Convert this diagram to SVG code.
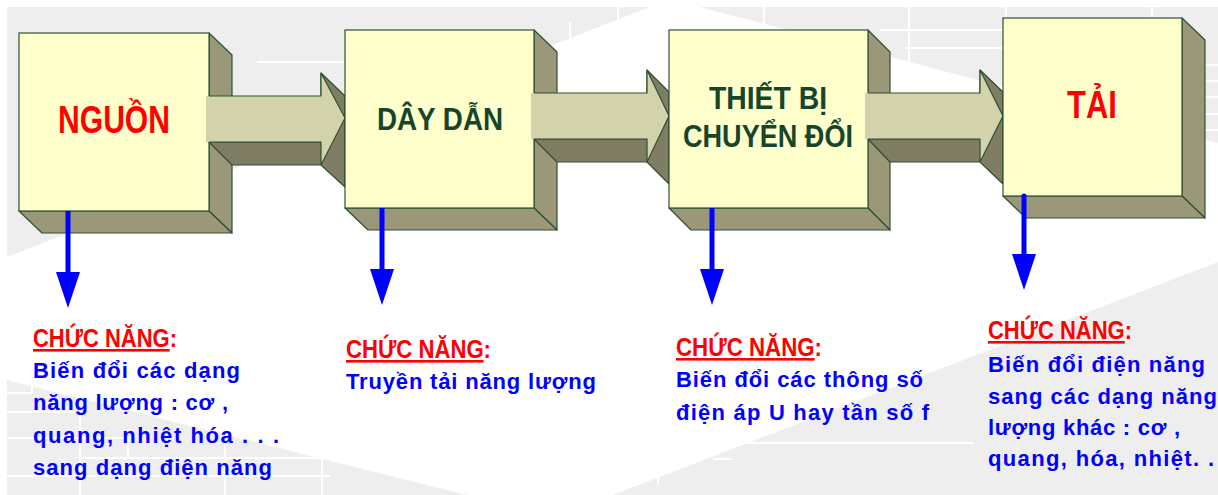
<svg xmlns="http://www.w3.org/2000/svg" width="1218" height="495" viewBox="0 0 1218 495">
<style>
.front{fill:#ffffcc;stroke:#2e5034;stroke-width:1.2}
.side{fill:#9a9878;stroke:#2e5034;stroke-width:1.2;stroke-linejoin:round}
.afill{fill:#d3d3ab;stroke:none}
.aedge{fill:none;stroke:#2e5034;stroke-width:1.2;stroke-linejoin:round}
.ashadow{fill:#7f7d64;stroke:#2e5034;stroke-width:1.2;stroke-linejoin:round}
.grid{stroke:#ffffff;stroke-width:2;fill:none}
.title{font-family:"Liberation Sans",Arial,sans-serif;font-weight:bold;text-anchor:middle}
.red{fill:#ff0000}
.green{fill:#17452a}
.head{font-family:"Liberation Sans",Arial,sans-serif;font-weight:bold;font-size:26px;fill:#ff0000}
.ul{text-decoration:underline}
.body{font-family:"Liberation Sans",Arial,sans-serif;font-weight:bold;font-size:22px;fill:#0000ff}
.down{stroke:#0000ff;stroke-width:5;fill:none}
</style>
<defs>
<marker id="bluehead" markerUnits="userSpaceOnUse" markerWidth="36" markerHeight="24" viewBox="0 0 36 24" refX="0" refY="12" orient="auto">
<path d="M0,0 L36,12 L0,24 Z" fill="#0000ff"/>
</marker>
</defs>
<g id="background">
<rect x="7" y="7" width="1211" height="488" fill="#eeeeee"/>
<path class="grid" d="M257 62H520M570 22V60M618 7V22M764 7V40M909 7V70M1006 7V20M1152 7V20M880 30H1003M905 48H1003M1190 65H1218M1190 81H1218M1190 97H1218M1190 114H1218M1190 130H1218M7 393H33M32 380V393M7 412H80M7 438H128M80 412V495M128 438V458M225 430V495M80 458H322M322 458V495M7 476H330M740 443H973M713 459H732M658 476V484"/>
<polygon points="7,257 650,7 700,7 1218,143 1218,262 613,495 467,495 7,380" fill="#ffffff"/>
</g>
<g id="node-nguon">
<polygon class="side" points="209,33 232,55 232,233 209,211"/>
<polygon class="side" points="19,211 209,211 232,233 42,233"/>
<rect class="front" x="19" y="33" width="190" height="178"/>
<text class="title red" x="114" y="133" font-size="38" textLength="112" lengthAdjust="spacingAndGlyphs">NGUỒN</text>
</g>
<g id="connectors">
<g id="flow1">
<polygon class="ashadow" points="209,142 321,142 321,73 345,96 345,187 321,165 232,165"/>
<polygon class="afill" points="206,96 321,96 321,73 345,118 321,165 321,142 206,142"/>
<polyline class="aedge" points="209,96 321,96 321,73 345,118 321,165 321,142 209,142"/>
</g>
</g>
<g id="node-daydan">
<polygon class="side" points="534,30 557,52 557,230 534,208"/>
<polygon class="side" points="345,208 534,208 557,230 368,230"/>
<rect class="front" x="345" y="30" width="189" height="178"/>
<text class="title green" x="440" y="130" font-size="32" textLength="126" lengthAdjust="spacingAndGlyphs">DÂY DẪN</text>
</g>
<g id="flow2">
<polygon class="ashadow" points="534,139 647,139 647,70 669,92 669,184 647,162 557,162"/>
<polygon class="afill" points="531,93 647,93 647,70 669,116 647,162 647,139 531,139"/>
<polyline class="aedge" points="534,93 647,93 647,70 669,116 647,162 647,139 534,139"/>
</g>
<g id="node-thietbi">
<polygon class="side" points="868,30 890,52 890,230 868,208"/>
<polygon class="side" points="669,208 868,208 890,230 691,230"/>
<rect class="front" x="669" y="30" width="199" height="178"/>
<text class="title green" x="768" y="109" font-size="32" textLength="118" lengthAdjust="spacingAndGlyphs">THIẾT BỊ</text>
<text class="title green" x="768" y="147" font-size="32" textLength="170" lengthAdjust="spacingAndGlyphs">CHUYỂN ĐỔI</text>
</g>
<g id="flow3">
<polygon class="ashadow" points="868,139 980,139 980,70 1003,92 1003,184 980,162 890,162"/>
<polygon class="afill" points="865,93 980,93 980,70 1003,116 980,162 980,139 865,139"/>
<polyline class="aedge" points="868,93 980,93 980,70 1003,116 980,162 980,139 868,139"/>
</g>
<g id="node-tai">
<polygon class="side" points="1182,18 1205,40 1205,218 1182,196"/>
<polygon class="side" points="1003,196 1182,196 1205,218 1026,218"/>
<rect class="front" x="1003" y="18" width="179" height="178"/>
<text class="title red" x="1092" y="118" font-size="38" textLength="50" lengthAdjust="spacingAndGlyphs">TẢI</text>
</g>
<g id="function-arrows">
<line class="down" x1="68" y1="211" x2="68" y2="272" marker-end="url(#bluehead)"/>
<line class="down" x1="382" y1="208" x2="382" y2="269" marker-end="url(#bluehead)"/>
<line class="down" x1="712" y1="208" x2="712" y2="269" marker-end="url(#bluehead)"/>
<line class="down" x1="1024" y1="196" x2="1024" y2="254" marker-end="url(#bluehead)" stroke-linecap="round"/>
</g>
<g id="label-nguon">
<text class="head" x="33" y="347" textLength="144" lengthAdjust="spacingAndGlyphs"><tspan class="ul">CHỨC NĂNG</tspan>:</text>
<text class="body" x="33" y="378" textLength="207">Biến đổi các dạng</text>
<text class="body" x="33" y="410" textLength="195">năng lượng : cơ ,</text>
<text class="body" x="33" y="443" textLength="246">quang, nhiệt hóa . . .</text>
<text class="body" x="33" y="475" textLength="239">sang dạng điện năng</text>
</g>
<g id="label-daydan">
<text class="head" x="346" y="358" textLength="145" lengthAdjust="spacingAndGlyphs"><tspan class="ul">CHỨC NĂNG</tspan>:</text>
<text class="body" x="346" y="389" textLength="250">Truyền tải năng lượng</text>
</g>
<g id="label-thietbi">
<text class="head" x="676" y="356" textLength="146" lengthAdjust="spacingAndGlyphs"><tspan class="ul">CHỨC NĂNG</tspan>:</text>
<text class="body" x="676" y="387" textLength="247">Biến đổi các thông số</text>
<text class="body" x="676" y="420" textLength="253">điện áp U hay tần số f</text>
</g>
<g id="label-tai">
<text class="head" x="988" y="339" textLength="144" lengthAdjust="spacingAndGlyphs"><tspan class="ul">CHỨC NĂNG</tspan>:</text>
<text class="body" x="988" y="372" textLength="217">Biến đổi điện năng</text>
<text class="body" x="988" y="404" textLength="229">sang các dạng năng</text>
<text class="body" x="988" y="435" textLength="192">lượng khác : cơ ,</text>
<text class="body" x="988" y="466" textLength="226">quang, hóa, nhiệt. .</text>
</g>
</svg>
